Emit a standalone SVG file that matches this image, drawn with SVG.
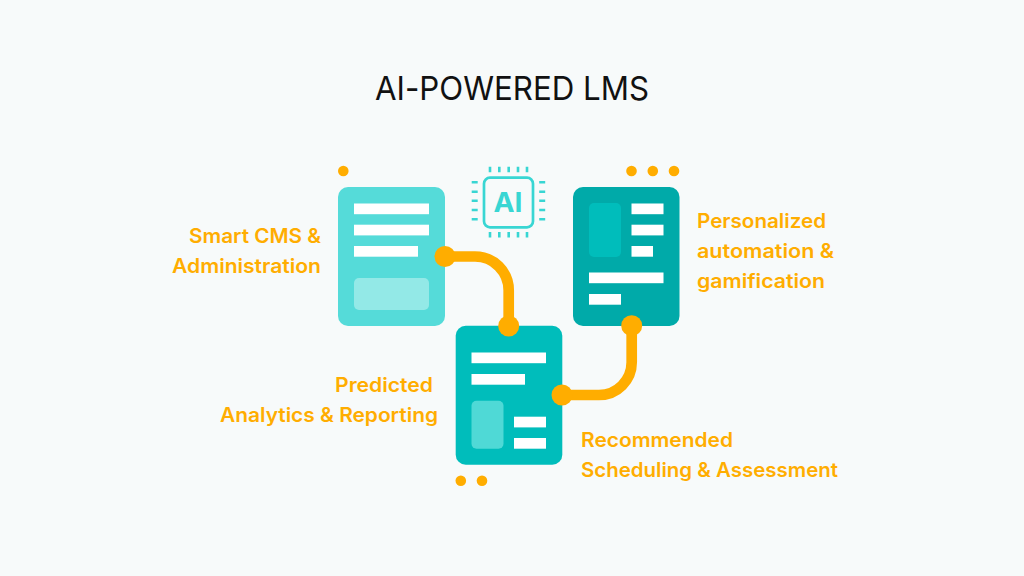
<svg xmlns="http://www.w3.org/2000/svg" width="1024" height="576" viewBox="0 0 1024 576">
<style>
text{font-variant-ligatures:none}
.t{font-family:"Inter","Noto Sans",sans-serif;font-weight:600;font-size:20px;fill:#ffad00}
.b{fill:#fff}
.c{fill:none;stroke:#ffad00;stroke-width:10.7}
.d{fill:#ffad00}
</style>
<rect width="1024" height="576" fill="#f7fafa"/>
<text x="375" y="100" textLength="274" lengthAdjust="spacingAndGlyphs" style="font-family:'Inter','Noto Sans',sans-serif;font-weight:400;font-size:33px;fill:#111">AI-POWERED LMS</text>
<g id="card-cms">
<rect x="338" y="187" width="107" height="139" rx="10" fill="#55dbd9"/>
<rect class="b" x="354" y="203.500" width="75" height="10.700"/>
<rect class="b" x="354" y="224.700" width="75" height="10.700"/>
<rect class="b" x="354" y="246" width="64" height="10.700"/>
<rect x="354" y="278" width="75" height="32" rx="5" fill="#93e9e7"/>
<text class="t" x="189" y="243.300" textLength="132" lengthAdjust="spacingAndGlyphs">Smart CMS &amp;</text>
<text class="t" x="172" y="273.300" textLength="149" lengthAdjust="spacingAndGlyphs">Administration</text>
<circle class="d" cx="343.300" cy="171" r="5.300"/>
</g>
<g id="card-auto">
<rect x="573" y="187" width="106.500" height="139" rx="10" fill="#00aaa9"/>
<rect x="589" y="203" width="32" height="54" rx="5" fill="#00bdbb"/>
<rect class="b" x="631.500" y="203.500" width="32" height="10.700"/>
<rect class="b" x="631.500" y="224.700" width="32" height="10.700"/>
<rect class="b" x="631.500" y="246" width="21.500" height="10.700"/>
<rect class="b" x="589" y="272.500" width="74.500" height="10.700"/>
<rect class="b" x="589" y="294" width="32" height="10.700"/>
<text class="t" x="697" y="228.300" textLength="129" lengthAdjust="spacingAndGlyphs">Personalized</text>
<text class="t" x="697" y="258.300" textLength="137" lengthAdjust="spacingAndGlyphs">automation &amp;</text>
<text class="t" x="697" y="288.300" textLength="128" lengthAdjust="spacingAndGlyphs">gamification</text>
<circle class="d" cx="631.500" cy="171" r="5.300"/>
<circle class="d" cx="652.800" cy="171" r="5.300"/>
<circle class="d" cx="674" cy="171" r="5.300"/>
</g>
<g id="card-analytics">
<rect x="455.700" y="325.700" width="106.600" height="139" rx="10" fill="#00bdbb"/>
<rect class="b" x="471.500" y="352.500" width="74.500" height="10.700"/>
<rect class="b" x="471.500" y="374" width="53.500" height="10.700"/>
<rect x="471.500" y="400.700" width="32" height="48" rx="5" fill="#4fd9d6"/>
<rect class="b" x="514" y="416.700" width="32" height="10.700"/>
<rect class="b" x="514" y="438" width="32" height="10.700"/>
<text class="t" x="335" y="391.700" textLength="98" lengthAdjust="spacingAndGlyphs">Predicted</text>
<text class="t" x="220" y="421.700" textLength="218" lengthAdjust="spacingAndGlyphs">Analytics &amp; Reporting</text>
<text class="t" x="581" y="446.700" textLength="152" lengthAdjust="spacingAndGlyphs">Recommended</text>
<text class="t" x="581" y="476.700" textLength="257" lengthAdjust="spacingAndGlyphs">Scheduling &amp; Assessment</text>
<circle class="d" cx="460.800" cy="480.700" r="5.300"/>
<circle class="d" cx="482" cy="480.700" r="5.300"/>
</g>
<g id="ai-chip">
<rect x="484" y="177.700" width="49" height="49.600" rx="6" fill="none" stroke="#38d6d3" stroke-width="2.700"/>
<text x="508" y="212.300" text-anchor="middle" textLength="29" lengthAdjust="spacingAndGlyphs" style="font-family:'Inter',sans-serif;font-weight:700;font-size:27.500px;fill:#38d6d3">AI</text>
<path fill="none" stroke="#38d6d3" stroke-width="2.600" d="M490 166.700v5.600M499.300 166.700v5.600M508.700 166.700v5.600M518 166.700v5.600M527 166.700v5.600M490 232v5.600M499.300 232v5.600M508.700 232v5.600M518 232v5.600M527 232v5.600M471.700 182.300h6M471.700 191.700h6M471.700 200.700h6M471.700 210h6M471.700 219.300h6M539.200 182.300h6M539.200 191.700h6M539.200 200.700h6M539.200 210h6M539.200 219.300h6"/>
</g>
<g id="connectors">
<path class="c" d="M445 256.500H475a33.700 33.700 0 0 1 33.700 33.700V326"/>
<circle class="d" cx="445" cy="256.500" r="10.500"/>
<circle class="d" cx="508.700" cy="326" r="10.500"/>
<path class="c" d="M562 395H599a32.700 32.700 0 0 0 32.700 -32.700V326"/>
<circle class="d" cx="562" cy="395" r="10.500"/>
<circle class="d" cx="631.700" cy="325.700" r="10.500"/>
</g>
</svg>
